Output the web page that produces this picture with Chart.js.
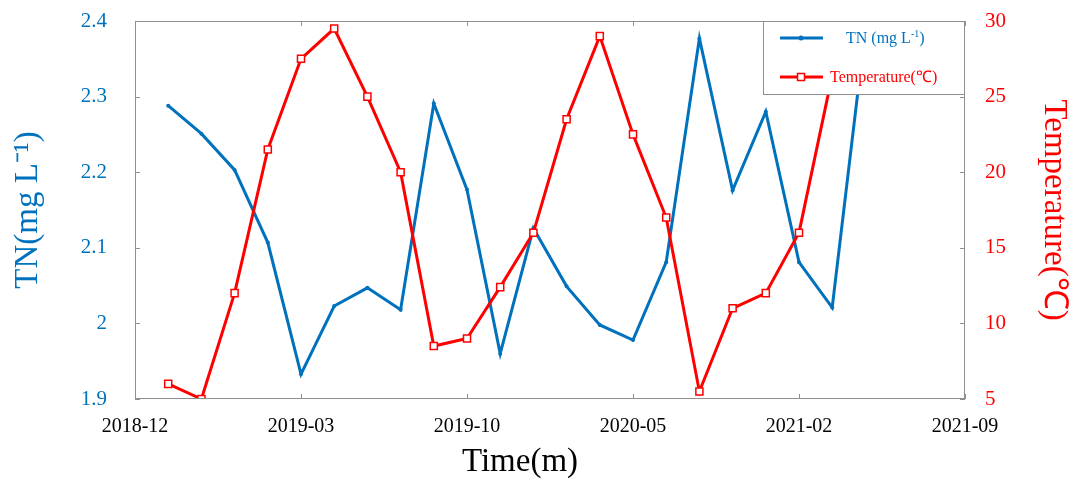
<!DOCTYPE html>
<html>
<head>
<meta charset="utf-8">
<script src="https://cdn.jsdelivr.net/npm/chart.js@4.4.1/dist/chart.umd.min.js"></script>
<style>
  html, body { margin: 0; padding: 0; background: #fff; }
  #wrap { width: 1070px; height: 482px; }
</style>
</head>
<body>
<div id="wrap"><canvas id="grafico" width="1070" height="482"></canvas></div>
<script>
const xTickLabels = ["2018-12", "2019-03", "2019-10", "2020-05", "2021-02", "2021-09"];
const tnValues = [2.288, 2.251, 2.203, 2.107, 1.933, 2.023, 2.047, 2.018, 2.291, 2.177, 1.960,
  2.126, 2.049, 1.998, 1.978, 2.081, 2.377, 2.176, 2.280, 2.081, 2.021, 2.39];
const tempValues = [6, 5, 12, 21.5, 27.5, 29.5, 25, 20, 8.5, 9, 12.4,
  16, 23.5, 29, 22.5, 17, 5.5, 11, 12, 16, 26.4];

const BLUE = "#0072BD";
const RED = "#FF0000";
const SERIF = "'Liberation Serif', 'Times New Roman', serif";

// fixed axis sizes so the plot box lands where the original has it
const fixSize = (w, h) => (s) => {
  if (w) s.width = w;
  if (h) s.height = h;
  s.paddingTop = 0; s.paddingBottom = 0; s.paddingLeft = 0; s.paddingRight = 0;
};

// MATLAB style box, inward ticks and a legend drawn on top of the lines
const framePlugin = {
  id: "frame",
  afterDatasetsDraw(chart) {
    const { ctx, chartArea: a, scales } = chart;
    ctx.save();
    ctx.strokeStyle = "#8f8f8f";
    ctx.lineWidth = 1;
    ctx.strokeRect(a.left + 0.5, a.top + 0.5, a.right - a.left - 1, a.bottom - a.top - 1);
    const len = 5;
    ctx.beginPath();
    scales.x.ticks.forEach((t) => {
      const px = Math.round(scales.x.getPixelForValue(t.value)) + 0.5;
      ctx.moveTo(px, a.bottom); ctx.lineTo(px, a.bottom - len);
      ctx.moveTo(px, a.top); ctx.lineTo(px, a.top + len);
    });
    scales.y.ticks.forEach((t) => {
      const py = Math.round(scales.y.getPixelForValue(t.value)) + 0.5;
      ctx.moveTo(a.left, py); ctx.lineTo(a.left + len, py);
    });
    scales.y1.ticks.forEach((t) => {
      const py = Math.round(scales.y1.getPixelForValue(t.value)) + 0.5;
      ctx.moveTo(a.right, py); ctx.lineTo(a.right - len, py);
    });
    ctx.stroke();

    // x title sits a little left of centre in the original
    ctx.fillStyle = "#000";
    ctx.font = "33px " + SERIF;
    ctx.textAlign = "center";
    ctx.textBaseline = "middle";
    ctx.fillText("Time(m)", (a.left + a.right) / 2 - 30, 462);

    // legend box
    const lx = 763, ly = a.top, lw = a.right - lx, lh = 74;
    ctx.fillStyle = "#fff";
    ctx.fillRect(lx, ly, lw, lh);
    ctx.strokeStyle = "#8f8f8f";
    ctx.strokeRect(lx + 0.5, ly + 0.5, lw - 1, lh - 1);

    // TN entry
    ctx.lineWidth = 3;
    ctx.strokeStyle = BLUE;
    ctx.beginPath(); ctx.moveTo(780, ly + 17); ctx.lineTo(823, ly + 17); ctx.stroke();
    ctx.fillStyle = BLUE;
    ctx.beginPath(); ctx.arc(801, ly + 17, 2.5, 0, Math.PI * 2); ctx.fill();
    ctx.font = "16px " + SERIF;
    ctx.textAlign = "left";
    let tx = 846;
    ctx.fillText("TN (mg L", tx, ly + 18);
    tx += ctx.measureText("TN (mg L").width;
    ctx.font = "10px " + SERIF;
    ctx.fillText("-1", tx, ly + 13);
    tx += ctx.measureText("-1").width;
    ctx.font = "16px " + SERIF;
    ctx.fillText(")", tx, ly + 18);

    // Temperature entry
    ctx.strokeStyle = RED;
    ctx.beginPath(); ctx.moveTo(780, ly + 56); ctx.lineTo(823, ly + 56); ctx.stroke();
    ctx.lineWidth = 1.5;
    ctx.fillStyle = "#fff";
    ctx.fillRect(797.5, ly + 52.5, 7, 7);
    ctx.strokeRect(797.5, ly + 52.5, 7, 7);
    ctx.fillStyle = RED;
    ctx.font = "16px " + SERIF;
    ctx.fillText("Temperature(\u2103)", 830, ly + 57);
    ctx.restore();
  },
};

new Chart(document.getElementById("grafico"), {
  type: "line",
  data: {
    datasets: [
      {
        label: "Temperature(\u2103)",
        data: tempValues.map((v, i) => ({ x: i + 1, y: v })),
        yAxisID: "y1",
        borderColor: RED,
        borderWidth: 3,
        pointStyle: "rect",
        pointRadius: 5,
        pointBorderWidth: 1.5,
        pointBackgroundColor: "#fff",
        pointBorderColor: RED,
        order: 0,
      },
      {
        label: "TN (mg L-1)",
        data: tnValues.map((v, i) => ({ x: i + 1, y: v })),
        yAxisID: "y",
        borderColor: BLUE,
        backgroundColor: BLUE,
        borderWidth: 3,
        pointRadius: 2,
        pointBorderWidth: 0,
        order: 1,
      },
    ],
  },
  options: {
    responsive: false,
    animation: false,
    layout: { padding: { top: 21, left: 0, right: 0, bottom: 0 } },
    plugins: { legend: { display: false }, tooltip: { enabled: false } },
    scales: {
      x: {
        type: "linear",
        min: 0,
        max: 25,
        grid: { display: false, drawTicks: false },
        border: { display: false },
        ticks: {
          stepSize: 5,
          padding: 16,
          color: "#000",
          font: { family: SERIF, size: 20 },
          callback: (v) => xTickLabels[Math.round(v / 5)],
        },
        afterFit: fixSize(0, 83),
      },
      y: {
        position: "left",
        min: 1.9,
        max: 2.4,
        grid: { display: false, drawTicks: false },
        border: { display: false },
        ticks: {
          stepSize: 0.1,
          padding: 28,
          color: BLUE,
          font: { family: SERIF, size: 21 },
          callback: (v) => String(parseFloat(Number(v).toFixed(1))),
        },
        title: {
          display: true,
          text: "TN(mg L\u207B\u00B9)",
          color: BLUE,
          font: { family: SERIF, size: 33, lineHeight: 1 },
          padding: { top: 12, bottom: 0 },
        },
        afterFit: fixSize(135, 0),
      },
      y1: {
        position: "right",
        min: 5,
        max: 30,
        grid: { display: false, drawTicks: false },
        border: { display: false },
        ticks: {
          stepSize: 5,
          padding: 20,
          color: RED,
          font: { family: SERIF, size: 21 },
        },
        title: {
          display: true,
          text: "Temperature(\u2103)",
          color: RED,
          font: { family: SERIF, size: 33, lineHeight: 1 },
          padding: { top: 0, bottom: 0 },
        },
        afterFit: fixSize(105, 0),
      },
    },
  },
  plugins: [framePlugin],
});
</script>
</body>
</html>
